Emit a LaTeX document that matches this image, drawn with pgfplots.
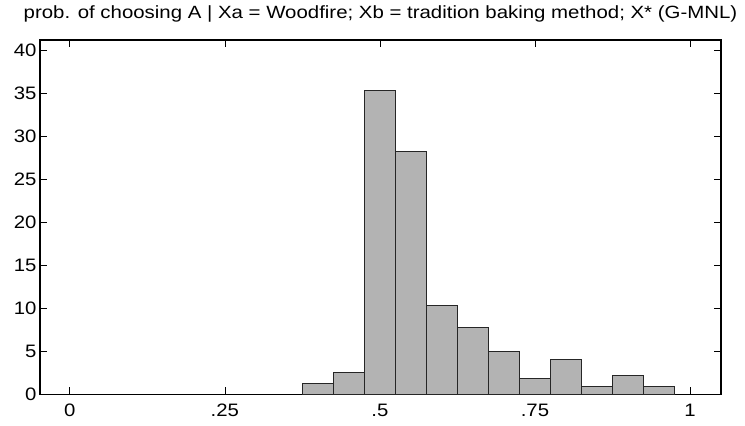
\documentclass[border=0pt]{standalone}
\usepackage{fontspec}
\setmainfont{Liberation Sans}
\usepackage{pgfplots}
\pgfplotsset{compat=1.18}
\usepackage{pgfplotstable}

% Histogram bins (left edge, percent); the last row closes the final bin
\pgfplotstableread{
x      y
0.375  1.28
0.425  2.56
0.475  35.34
0.525  28.32
0.575  10.36
0.625  7.75
0.675  4.96
0.725  1.86
0.775  4.07
0.825  0.93
0.875  2.21
0.925  0.93
0.975  0
}\histdata

\newcommand{\lbl}[1]{\scalebox{1.13}[1]{#1}}
\newcommand{\ttl}[1]{\scalebox{1.153}[1]{#1}}

\begin{document}
\begin{tikzpicture}
\begin{axis}[
  at={(0bp,0bp)}, anchor=south west,
  scale only axis,
  width=681bp, height=354.3bp,
  xmin=-0.048, xmax=1.05,
  ymin=0, ymax=41.25,
  xtick={0,0.25,0.5,0.75,1},
  xticklabels={\lbl{0},\lbl{.25},\lbl{.5},\lbl{.75},\lbl{1}},
  ytick={0,5,10,15,20,25,30,35,40},
  yticklabels={\lbl{0},\lbl{5},\lbl{10},\lbl{15},\lbl{20},\lbl{25},\lbl{30},\lbl{35},\lbl{40}},
  tick align=inside,
  major tick length=7bp,
  tick style={black, line width=0.6bp},
  axis line style={black, line width=1.1bp},
  ticklabel style={font=\fontsize{18bp}{20bp}\selectfont},
  xticklabel style={yshift=-6bp},
  yticklabel style={xshift=0bp},
  title={\ttl{prob. of choosing A | Xa = Woodfire; Xb = tradition baking method; X* (G-MNL)}},
  title style={at={(0.5,1)}, anchor=base, yshift=16bp, xshift=0bp,
               font=\fontsize{17.7bp}{20bp}\selectfont},
]
\addplot[ybar interval, fill={rgb,255:red,179;green,179;blue,179},
         draw=black!85, line width=0.9bp] table[x=x, y=y] {\histdata};
\end{axis}
\path[use as bounding box] (-40bp,-31.7bp) rectangle (705bp,394.3bp);
\end{tikzpicture}
\end{document}
